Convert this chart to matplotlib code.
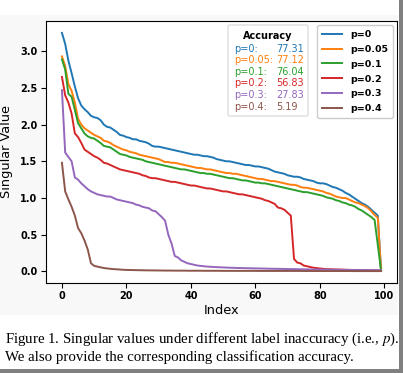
import numpy as np
import matplotlib
matplotlib.use("Agg")
from matplotlib import pyplot as plt
from matplotlib.patches import Rectangle, FancyBboxPatch

plt.rcParams['font.family'] = ['DejaVu Sans']
plt.rcParams['mathtext.fontset'] = 'stix'

# singular values, index 0..99
sv_p0 = [3.25, 3.10, 2.87, 2.70, 2.52, 2.36, 2.26, 2.21, 2.17, 2.12,
         2.10, 2.09, 2.06, 2.00, 1.97, 1.96, 1.93, 1.90, 1.86, 1.85,
         1.83, 1.82, 1.80, 1.80, 1.78, 1.77, 1.76, 1.74, 1.71, 1.70,
         1.70, 1.69, 1.68, 1.67, 1.66, 1.65, 1.64, 1.63, 1.62, 1.61,
         1.60, 1.59, 1.59, 1.58, 1.57, 1.57, 1.56, 1.55, 1.53, 1.52,
         1.51, 1.50, 1.50, 1.49, 1.48, 1.47, 1.46, 1.45, 1.45, 1.44,
         1.43, 1.43, 1.42, 1.41, 1.40, 1.38, 1.36, 1.35, 1.34, 1.33,
         1.31, 1.30, 1.29, 1.29, 1.28, 1.26, 1.25, 1.24, 1.23, 1.21,
         1.20, 1.20, 1.19, 1.17, 1.15, 1.14, 1.12, 1.10, 1.07, 1.05,
         1.02, 0.99, 0.96, 0.93, 0.91, 0.88, 0.84, 0.80, 0.76, 0.01]
sv_p005 = [2.93, 2.80, 2.55, 2.46, 2.30, 2.08, 2.00, 1.95, 1.92, 1.89,
           1.86, 1.84, 1.82, 1.78, 1.77, 1.75, 1.72, 1.70, 1.68, 1.66,
           1.65, 1.63, 1.62, 1.61, 1.59, 1.58, 1.57, 1.56, 1.55, 1.54,
           1.53, 1.51, 1.49, 1.49, 1.48, 1.48, 1.47, 1.46, 1.45, 1.44,
           1.43, 1.42, 1.41, 1.41, 1.40, 1.39, 1.39, 1.38, 1.37, 1.36,
           1.35, 1.34, 1.34, 1.33, 1.33, 1.32, 1.31, 1.30, 1.29, 1.28,
           1.27, 1.26, 1.26, 1.25, 1.24, 1.23, 1.23, 1.22, 1.21, 1.20,
           1.19, 1.18, 1.18, 1.17, 1.15, 1.14, 1.14, 1.13, 1.12, 1.11,
           1.10, 1.09, 1.07, 1.06, 1.04, 1.02, 1.01, 1.00, 1.00, 0.98,
           0.96, 0.94, 0.93, 0.91, 0.89, 0.86, 0.82, 0.77, 0.73, 0.01]
sv_p01 = [2.89, 2.75, 2.42, 2.38, 2.20, 2.02, 1.95, 1.88, 1.84, 1.82,
          1.81, 1.78, 1.75, 1.71, 1.70, 1.69, 1.66, 1.63, 1.60, 1.59,
          1.58, 1.56, 1.55, 1.54, 1.53, 1.52, 1.50, 1.49, 1.48, 1.47,
          1.46, 1.45, 1.44, 1.43, 1.42, 1.41, 1.40, 1.39, 1.39, 1.38,
          1.37, 1.36, 1.35, 1.34, 1.34, 1.33, 1.33, 1.32, 1.31, 1.30,
          1.29, 1.28, 1.27, 1.27, 1.26, 1.25, 1.24, 1.24, 1.23, 1.22,
          1.21, 1.21, 1.20, 1.20, 1.19, 1.18, 1.17, 1.16, 1.15, 1.14,
          1.13, 1.12, 1.11, 1.10, 1.09, 1.08, 1.08, 1.07, 1.06, 1.05,
          1.04, 1.03, 1.01, 1.00, 0.99, 0.97, 0.96, 0.94, 0.93, 0.91,
          0.90, 0.88, 0.85, 0.83, 0.80, 0.77, 0.74, 0.70, 0.36, 0.01]
sv_p02 = [2.65, 2.40, 2.30, 2.15, 1.88, 1.83, 1.75, 1.66, 1.63, 1.60,
          1.57, 1.55, 1.52, 1.48, 1.47, 1.45, 1.43, 1.41, 1.39, 1.38,
          1.37, 1.36, 1.35, 1.34, 1.33, 1.31, 1.30, 1.28, 1.27, 1.27,
          1.26, 1.25, 1.24, 1.23, 1.22, 1.22, 1.21, 1.20, 1.19, 1.18,
          1.17, 1.17, 1.16, 1.15, 1.14, 1.13, 1.13, 1.12, 1.11, 1.10,
          1.09, 1.09, 1.08, 1.07, 1.06, 1.05, 1.05, 1.04, 1.03, 1.02,
          1.01, 1.00, 0.99, 0.97, 0.96, 0.94, 0.92, 0.87, 0.86, 0.84,
          0.80, 0.76, 0.17, 0.12, 0.11, 0.08, 0.07, 0.06, 0.05, 0.045,
          0.040, 0.035, 0.030, 0.030, 0.028, 0.026, 0.025, 0.024, 0.022, 0.021,
          0.020, 0.019, 0.018, 0.017, 0.016, 0.015, 0.014, 0.013, 0.012, 0.011]
sv_p03 = [2.47, 1.62, 1.56, 1.50, 1.28, 1.25, 1.20, 1.16, 1.12, 1.09,
          1.07, 1.05, 1.04, 1.03, 1.02, 1.02, 1.00, 0.98, 0.97, 0.96,
          0.95, 0.94, 0.93, 0.91, 0.90, 0.88, 0.87, 0.86, 0.83, 0.82,
          0.78, 0.74, 0.69, 0.50, 0.38, 0.21, 0.19, 0.15, 0.13, 0.11,
          0.100, 0.090, 0.080, 0.075, 0.070, 0.066, 0.063, 0.060, 0.058, 0.056,
          0.054, 0.052, 0.050, 0.049, 0.047, 0.046, 0.045, 0.044, 0.043, 0.042,
          0.041, 0.040, 0.039, 0.038, 0.037, 0.036, 0.035, 0.035, 0.034, 0.033,
          0.032, 0.031, 0.031, 0.030, 0.029, 0.028, 0.028, 0.027, 0.026, 0.026,
          0.025, 0.024, 0.024, 0.023, 0.022, 0.022, 0.021, 0.021, 0.020, 0.020,
          0.019, 0.019, 0.018, 0.018, 0.017, 0.017, 0.016, 0.016, 0.015, 0.015]
sv_p04 = [1.48, 1.09, 0.98, 0.88, 0.76, 0.59, 0.52, 0.42, 0.30, 0.11,
          0.075, 0.065, 0.055, 0.046, 0.040, 0.035, 0.031, 0.028, 0.025, 0.022,
          0.020, 0.019, 0.018, 0.017, 0.016, 0.015, 0.014, 0.014, 0.013, 0.013,
          0.012, 0.012, 0.011, 0.011, 0.011, 0.010, 0.010, 0.010, 0.010, 0.009,
          0.009, 0.009, 0.009, 0.009, 0.008, 0.008, 0.008, 0.008, 0.008, 0.008,
          0.007, 0.007, 0.007, 0.007, 0.007, 0.007, 0.007, 0.007, 0.007, 0.007,
          0.007, 0.006, 0.006, 0.006, 0.006, 0.006, 0.006, 0.006, 0.006, 0.006,
          0.006, 0.006, 0.006, 0.006, 0.006, 0.005, 0.005, 0.005, 0.005, 0.005,
          0.005, 0.005, 0.005, 0.005, 0.005, 0.005, 0.005, 0.005, 0.005, 0.005,
          0.004, 0.004, 0.004, 0.004, 0.004, 0.004, 0.004, 0.004, 0.004, 0.004]

series = [sv_p0, sv_p005, sv_p01, sv_p02, sv_p03, sv_p04]
labels = ["p=0", "p=0.05", "p=0.1", "p=0.2", "p=0.3", "p=0.4"]
acc_names = ["p=0:", "p=0.05:", "p=0.1:", "p=0.2:", "p=0.3:", "p=0.4:"]
acc_values = ["77.31", "77.12", "76.04", "56.83", "27.83", "5.19"]
colors = ["tab:blue", "tab:orange", "tab:green", "tab:red", "tab:purple", "tab:brown"]

fig = plt.figure(figsize=(4.03, 3.73), dpi=100)
fig.patch.set_facecolor("white")

# light panel behind the chart, and the page border on right/bottom
fig.patches.append(Rectangle((0, 1 - 315/373), 398/403, 300/373, transform=fig.transFigure,
                             facecolor="#f8f8f8", edgecolor="none", zorder=-10))
fig.patches.append(Rectangle((399/403, 0), 4/403, 1, transform=fig.transFigure,
                             facecolor="#808080", edgecolor="none", zorder=-5))
fig.patches.append(Rectangle((0, 0), 1, 4/373, transform=fig.transFigure,
                             facecolor="#808080", edgecolor="none", zorder=-5))

ax = fig.add_axes([46/403, 1 - 283/373, 351/403, 262/373])
ax.set_facecolor("white")

idx = np.arange(len(sv_p0))
for vals, lab, col in zip(series, labels, colors):
    ax.plot(idx, vals, color=col, lw=1.4, label=lab)

ax.set_xlabel("Index", fontsize=9.3, labelpad=2)
ax.set_ylabel("Singular Value", fontsize=9.3, labelpad=5)
ax.set_xticks([0, 20, 40, 60, 80, 100])
ax.set_yticks([0.0, 0.5, 1.0, 1.5, 2.0, 2.5, 3.0])
ax.tick_params(labelsize=7, length=3.5, pad=2.5)
for t in ax.get_xticklabels() + ax.get_yticklabels():
    t.set_fontweight("bold")

leg = ax.legend(loc="upper right", prop={"weight": "bold", "size": 6.8},
                handlelength=2.1, handletextpad=0.9, labelspacing=0.62, borderpad=0.5,
                borderaxespad=0.45, framealpha=1.0, fancybox=True)

# accuracy box
box_x0, box_x1 = (228 - 46) / 351, (308 - 46) / 351
box_y0, box_y1 = (283 - 116) / 262, (283 - 25) / 262
ax.add_patch(FancyBboxPatch((box_x0, box_y0), box_x1 - box_x0, box_y1 - box_y0,
                            boxstyle="round,pad=0,rounding_size=0.005",
                            transform=ax.transAxes, facecolor="white",
                            edgecolor="#d6d6d6", lw=0.8, zorder=4))
ax.text((268 - 46) / 351, (283 - 36) / 262, "Accuracy", transform=ax.transAxes,
        ha="center", va="center", fontsize=7, fontweight="bold", zorder=5)
for i in range(len(acc_names)):
    yy = (283 - (48.5 + i * 11.6)) / 262
    ax.text((234 - 46) / 351, yy, acc_names[i], transform=ax.transAxes, ha="left",
            va="center", fontsize=7, color=colors[i], zorder=5)
    ax.text((276 - 46) / 351, yy, acc_values[i], transform=ax.transAxes, ha="left",
            va="center", fontsize=7, color=colors[i], zorder=5)

# caption
fig.text(5/403, 1 - 339/373, "Figure 1. Singular values under different label inaccuracy (i.e., $p$).",
         family="Liberation Serif", fontsize=10.7, ha="left", va="center")
fig.text(5/403, 1 - 357/373, "We also provide the corresponding classification accuracy.",
         family="Liberation Serif", fontsize=10.7, ha="left", va="center")

fig.savefig("out.png", dpi=100)
